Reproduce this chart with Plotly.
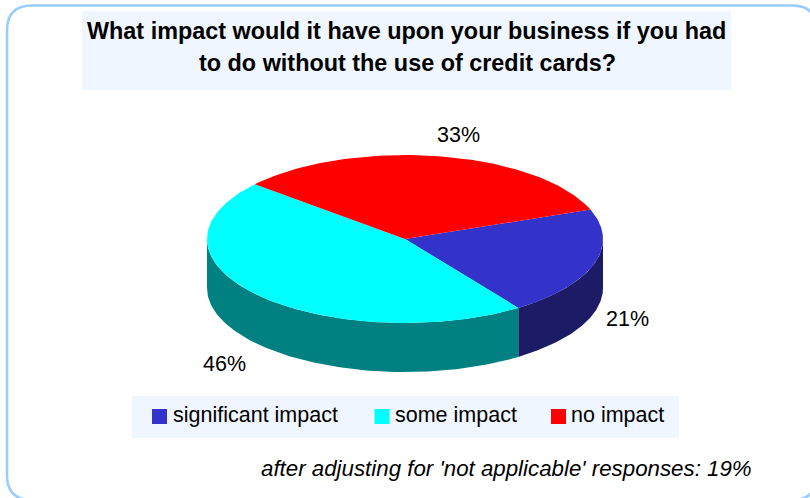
import numpy as np
import plotly.graph_objects as go

# Survey answers, in percent
categories = ["significant impact", "some impact", "no impact"]
shares = [21, 46, 33]
top_colors = ["#3333cc", "#00ffff", "#ff0000"]
wall_colors = ["#1b1b66", "#008080", "#800000"]

title_lines = ["What impact would it have upon your business if you had",
               "to do without the use of credit cards?"]
footnote = "after adjusting for 'not applicable' responses: 19%"

W, H = 810, 498
FONT = "Liberation Sans, Arial, sans-serif"

# Tilted pie: an ellipse in pixel-scaled axes, with a dropped rim below it
CX, CY, RX, RY, DEPTH = 405, 239, 198, 84, 49
START_DEG = 20.5


def arc(a0, a1, drop=0.0):
    t = np.radians(np.linspace(a0, a1, 120))
    return CX + RX * np.cos(t), CY - RY * np.sin(t) + drop


# Slices run clockwise from the starting angle
edges = START_DEG - np.cumsum([0] + shares) * 3.6

fig = go.Figure()

# Rim first, only the part facing the viewer (below the horizontal diameter)
for i in range(len(shares)):
    a0, a1 = edges[i], edges[i + 1]
    lo, hi = max(a1, -180), min(a0, 0)
    if lo < hi:
        tx, ty = arc(hi, lo)
        bx, by = arc(lo, hi, DEPTH)
        fig.add_trace(go.Scatter(
            x=np.r_[tx, bx], y=np.r_[ty, by], mode="lines", fill="toself",
            fillcolor=wall_colors[i], line=dict(width=0),
            hoverinfo="skip", showlegend=False))

# Top faces
for i in range(len(shares)):
    ax, ay = arc(edges[i], edges[i + 1])
    fig.add_trace(go.Scatter(
        x=np.r_[CX, ax, CX], y=np.r_[CY, ay, CY], mode="lines", fill="toself",
        fillcolor=top_colors[i], line=dict(width=0),
        name=categories[i], hoverinfo="name", showlegend=False))

# Legend row: square swatches with their captions
swatch_x = [159.5, 382, 558.5]
caption_x = [171, 393, 569]
fig.add_trace(go.Scatter(
    x=swatch_x, y=[416.5] * 3, mode="markers",
    marker=dict(symbol="square", size=15, color=top_colors),
    hoverinfo="skip", showlegend=False))

annotations = []


def label(x, y, text, size=21.5, anchor="center", bold=False, italic=False):
    annotations.append(dict(
        x=x, y=y, xref="x", yref="y", text=f"<b>{text}</b>" if bold else text,
        showarrow=False, xanchor=anchor, yanchor="middle", align=anchor,
        font=dict(family=FONT, size=size, color="#000000",
                  style="italic" if italic else "normal")))


for name, x in zip(categories, caption_x):
    label(x, 415, name, anchor="left")

label(406.5, 31, title_lines[0], size=23.4, bold=True)
label(407.5, 63, title_lines[1], size=23.4, bold=True)

# Value labels around the pie
label(458, 135, f"{shares[2]}%")
label(627, 319, f"{shares[0]}%")
label(224, 364, f"{shares[1]}%")

label(754, 468, footnote, size=22.3, anchor="right", italic=True)

shapes = [
    # Rounded outer frame, running slightly off the right and bottom edges
    dict(type="path", xref="x", yref="y", layer="below",
         path="M 32 5.5 L 792 5.5 Q 817 5.5 817 30.5 L 817 475 Q 817 500 792 500 "
              "L 32 500 Q 7 500 7 475 L 7 30.5 Q 7 5.5 32 5.5 Z",
         line=dict(color="#99ccff", width=2.5), fillcolor="#ffffff"),
    # Pale bands behind the title and the legend row
    dict(type="rect", xref="x", yref="y", x0=82, x1=731, y0=11, y1=90,
         fillcolor="#eff6ff", line=dict(width=0), layer="below"),
    dict(type="rect", xref="x", yref="y", x0=132, x1=679, y0=396, y1=438,
         fillcolor="#eff6ff", line=dict(width=0), layer="below"),
]

fig.update_layout(
    width=W, height=H, margin=dict(l=0, r=0, t=0, b=0, pad=0),
    paper_bgcolor="#ffffff", plot_bgcolor="#ffffff", showlegend=False,
    shapes=shapes, annotations=annotations,
    xaxis=dict(range=[0, W], visible=False, fixedrange=True),
    yaxis=dict(range=[H, 0], visible=False, fixedrange=True),
)
fig.write_html("out.html", config=dict(displayModeBar=False))
